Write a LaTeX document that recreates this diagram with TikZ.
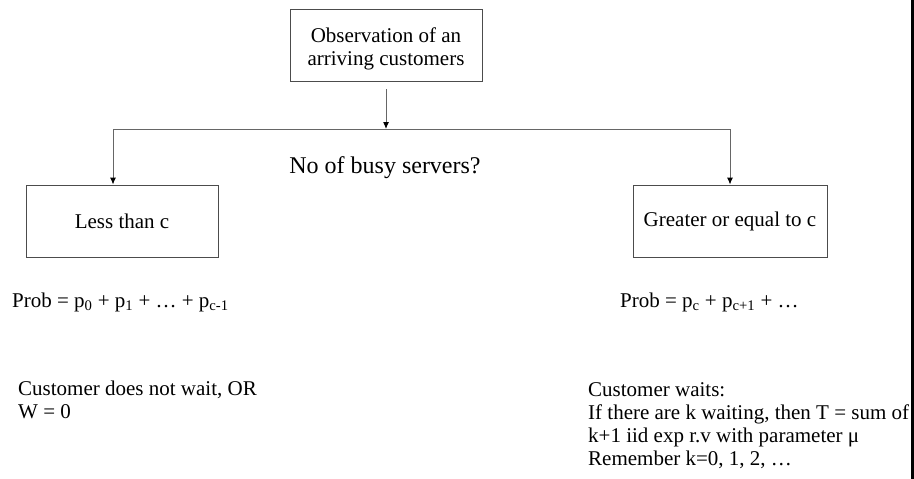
\documentclass[tikz,border=0pt]{standalone}
\usepackage{fontspec}
\setmainfont{Liberation Serif}
\usetikzlibrary{arrows.meta}

\begin{document}
\begin{tikzpicture}
[x=1pt, y=-1pt, font=\fontsize{21}{23}\selectfont,
 box/.style={draw=black!70, line width=0.9pt, inner sep=0pt, minimum height=72pt},
 txt/.style={inner sep=0pt, align=left},
 conn/.style={draw=black!60, line width=1pt},
 arr/.style={conn, -{Latex[length=7pt,width=6pt,black]}}]
\useasboundingbox (0,0) rectangle (914,479);

\node [box, minimum width=192pt, align=center, text height=44.5pt,
 text depth=4.5pt] (obs) at (386,45)
 {Observation of an\\arriving customers};

\node [box, minimum width=192pt] (less) at (122,221) {Less than c};
\node [box, minimum width=194pt] (geq) at (730,221) {Greater or equal to c};

\coordinate (split) at (386,129);
\coordinate (jl) at (113,129);
\coordinate (jr) at (730,129);

\draw [arr, shorten <=8pt] (obs.south) -- (split);
\draw [conn] (jl) -- (jr);
\draw [arr] (jl) -- (jl |- less.north);
\draw [arr] (jr) -- (jr |- geq.north);

\node [txt, anchor=base, font=\fontsize{24}{26}\selectfont] (question)
 at (385,173) {No of busy servers?};

\node [txt, anchor=base west] (probl) at (12,307)
 {Prob = p\textsubscript{0} + p\textsubscript{1} + … + p\textsubscript{c-1}};
\node [txt, anchor=base west] (probr) at (620,307)
 {Prob = p\textsubscript{c} + p\textsubscript{c+1} + …};

% base = baseline of the last line
\node [txt, anchor=base west] (nowait) at (18,418)
 {Customer does not wait, OR\\W = 0};
\node [txt, anchor=base west] (wait) at (588,465)
 {Customer waits:\\If there are k waiting, then T = sum of\\k+1 iid exp r.v with parameter μ\\Remember k=0, 1, 2, …};

% black edge on the right
\fill [black] (911,0) rectangle (914,479);
\end{tikzpicture}
\end{document}
